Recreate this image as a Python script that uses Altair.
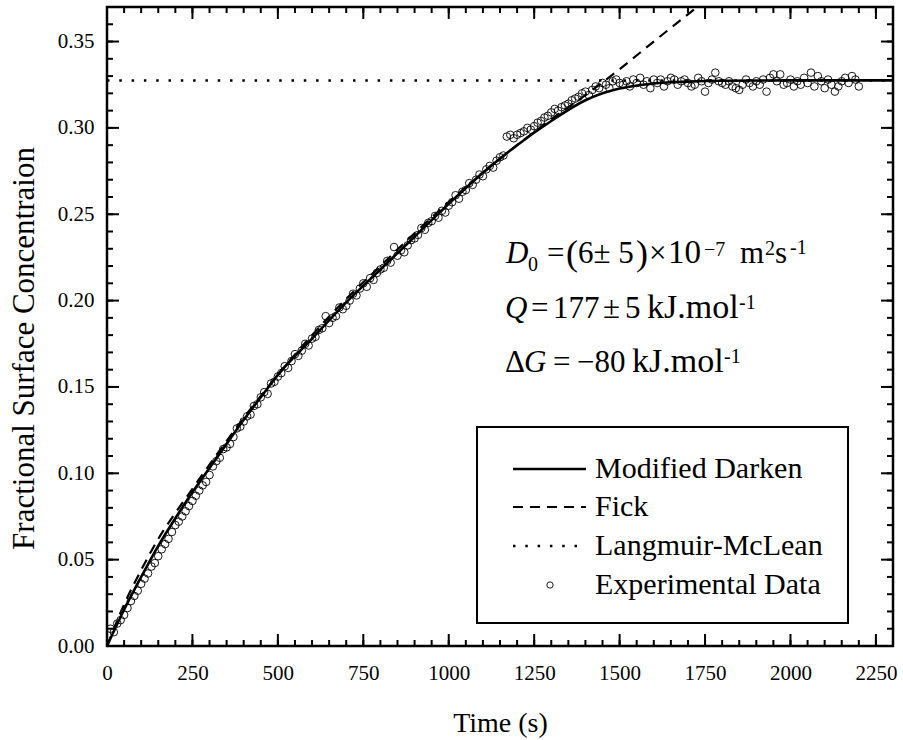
import altair as alt
import pandas as pd

# ---------------- data ----------------
exp_t = [
    10, 20, 30, 40, 50, 60, 70, 80, 90, 100,
    110, 120, 130, 140, 150, 160, 170, 180, 190, 200,
    210, 220, 230, 240, 250, 260, 270, 280, 290, 300,
    310, 320, 330, 340, 350, 360, 370, 380, 390, 400,
    410, 420, 430, 440, 450, 460, 470, 480, 490, 500,
    510, 520, 530, 540, 550, 560, 570, 580, 590, 600,
    610, 620, 630, 640, 650, 660, 670, 680, 690, 700,
    710, 720, 730, 740, 750, 760, 770, 780, 790, 800,
    810, 820, 830, 840, 850, 860, 870, 880, 890, 900,
    910, 920, 930, 940, 950, 960, 970, 980, 990, 1000,
    1010, 1020, 1030, 1040, 1050, 1060, 1070, 1080, 1090, 1100,
    1110, 1120, 1130, 1140, 1150, 1160, 1170, 1180, 1190, 1200,
    1210, 1220, 1230, 1240, 1250, 1260, 1270, 1280, 1290, 1300,
    1310, 1320, 1330, 1340, 1350, 1360, 1370, 1380, 1390, 1400,
    1410, 1420, 1430, 1440, 1450, 1460, 1470, 1480, 1490, 1500,
    1510, 1520, 1530, 1540, 1550, 1560, 1570, 1580, 1590, 1600,
    1610, 1620, 1630, 1640, 1650, 1660, 1670, 1680, 1690, 1700,
    1710, 1720, 1730, 1740, 1750, 1760, 1770, 1780, 1790, 1800,
    1810, 1820, 1830, 1840, 1850, 1860, 1870, 1880, 1890, 1900,
    1910, 1920, 1930, 1940, 1950, 1960, 1970, 1980, 1990, 2000,
    2010, 2020, 2030, 2040, 2050, 2060, 2070, 2080, 2090, 2100,
    2110, 2120, 2130, 2140, 2150, 2160, 2170, 2180, 2190, 2200,
]
exp_c = [
    0.010, 0.008, 0.013, 0.015, 0.018, 0.022, 0.026, 0.029, 0.032, 0.036,
    0.039, 0.042, 0.046, 0.048, 0.052, 0.056, 0.059, 0.062, 0.066, 0.070,
    0.072, 0.075, 0.078, 0.081, 0.084, 0.087, 0.090, 0.093, 0.095, 0.099,
    0.104, 0.107, 0.109, 0.114, 0.115, 0.117, 0.121, 0.126, 0.127, 0.130,
    0.133, 0.134, 0.139, 0.140, 0.144, 0.147, 0.146, 0.152, 0.153, 0.156,
    0.158, 0.162, 0.161, 0.165, 0.169, 0.168, 0.171, 0.175, 0.174, 0.178,
    0.179, 0.183, 0.184, 0.191, 0.187, 0.190, 0.191, 0.196, 0.195, 0.197,
    0.200, 0.204, 0.203, 0.207, 0.210, 0.208, 0.213, 0.212, 0.216, 0.218,
    0.219, 0.223, 0.222, 0.231, 0.226, 0.229, 0.228, 0.232, 0.235, 0.236,
    0.238, 0.242, 0.241, 0.245, 0.246, 0.249, 0.248, 0.252, 0.251, 0.255,
    0.257, 0.261, 0.259, 0.263, 0.264, 0.268, 0.267, 0.270, 0.273, 0.272,
    0.276, 0.278, 0.277, 0.281, 0.283, 0.284, 0.295, 0.296, 0.294, 0.296,
    0.297, 0.298, 0.300, 0.299, 0.301, 0.303, 0.304, 0.306, 0.307, 0.309,
    0.311, 0.310, 0.312, 0.313, 0.314, 0.316, 0.317, 0.318, 0.320, 0.321,
    0.319, 0.322, 0.324, 0.323, 0.326, 0.325, 0.323, 0.327, 0.328, 0.326,
    0.325, 0.327, 0.324, 0.328, 0.326, 0.329, 0.325, 0.327, 0.323, 0.328,
    0.326, 0.328, 0.324, 0.327, 0.329, 0.328, 0.325, 0.327, 0.328, 0.326,
    0.324, 0.325, 0.329, 0.327, 0.321, 0.326, 0.328, 0.332, 0.327, 0.326,
    0.325, 0.327, 0.324, 0.323, 0.322, 0.325, 0.328, 0.326, 0.324, 0.327,
    0.325, 0.328, 0.321, 0.329, 0.331, 0.327, 0.331, 0.325, 0.326, 0.328,
    0.324, 0.327, 0.325, 0.329, 0.326, 0.332, 0.324, 0.330, 0.327, 0.323,
    0.328, 0.325, 0.321, 0.324, 0.327, 0.329, 0.326, 0.330, 0.328, 0.324,
]

darken_t = [0, 50, 100, 150, 200, 250, 300, 350, 400, 450, 500, 600, 700, 800,
            900, 1000, 1100, 1200, 1300, 1400, 1450, 1500, 1550, 1600, 1700,
            1800, 2000, 2300]
darken_c = [0, 0.021, 0.040, 0.058, 0.074, 0.089, 0.103, 0.117, 0.131, 0.144,
            0.157, 0.178, 0.199, 0.218, 0.237, 0.256, 0.274, 0.290, 0.304,
            0.316, 0.320, 0.3228, 0.3245, 0.3257, 0.3268, 0.3273, 0.3275, 0.3275]

fick_t = [0, 50, 100, 150, 200, 250, 300, 400, 500, 600, 700, 800, 900, 1000,
          1100, 1200, 1300, 1400, 1500, 1600, 1727]
fick_c = [0, 0.024, 0.044, 0.062, 0.077, 0.091, 0.105, 0.132, 0.157, 0.180,
          0.201, 0.220, 0.239, 0.257, 0.274, 0.290, 0.305, 0.319, 0.334, 0.350,
          0.370]

lm_t = [0, 2300]
lm_c = [0.3275, 0.3275]

x_major = [0, 250, 500, 750, 1000, 1250, 1500, 1750, 2000, 2250]
x_minor = [0, 50, 100, 150, 200, 250, 300, 350, 400, 450, 500, 550, 600, 650,
           700, 750, 800, 850, 900, 950, 1000, 1050, 1100, 1150, 1200, 1250,
           1300, 1350, 1400, 1450, 1500, 1550, 1600, 1650, 1700, 1750, 1800,
           1850, 1900, 1950, 2000, 2050, 2100, 2150, 2200, 2250, 2300]
y_major = [0.0, 0.05, 0.10, 0.15, 0.20, 0.25, 0.30, 0.35]
y_minor = [0.0, 0.01, 0.02, 0.03, 0.04, 0.05, 0.06, 0.07, 0.08, 0.09, 0.10,
           0.11, 0.12, 0.13, 0.14, 0.15, 0.16, 0.17, 0.18, 0.19, 0.20, 0.21,
           0.22, 0.23, 0.24, 0.25, 0.26, 0.27, 0.28, 0.29, 0.30, 0.31, 0.32,
           0.33, 0.34, 0.35, 0.36, 0.37]

legend_labels = ["Modified Darken", "Fick", "Langmuir-McLean", "Experimental Data"]

# ---------------- layout / style ----------------
W, H = 786, 639
LEFT, TOP = 107, 7
FONT = "Liberation Serif"

xs = alt.Scale(domain=[0, 2300], nice=False, zero=False)
ys = alt.Scale(domain=[0, 0.37], nice=False, zero=False)

x_axis = alt.Axis(values=x_major, format="d", title="Time (s)", ticks=False,
                  domain=False, grid=False, labelFont=FONT, labelFontSize=21,
                  labelColor="black", labelPadding=16, labelFlush=False,
                  labelOverlap=False, titleFont=FONT, titleFontSize=28,
                  titleFontWeight="normal", titleColor="black", titleY=85,
                  titleBaseline="alphabetic")
y_axis = alt.Axis(values=y_major, format=".2f",
                  title="Fractional Surface Concentraion", ticks=False,
                  domain=False, grid=False, labelFont=FONT, labelFontSize=21,
                  labelColor="black", labelPadding=13, labelFlush=False,
                  labelOverlap=False, titleFont=FONT, titleFontSize=31,
                  titleFontWeight="normal", titleColor="black", titleX=-74,
                  titleY=341, titleAngle=270, titleBaseline="alphabetic",
                  titleAlign="center")


def X():
    return alt.X("t:Q", scale=xs, axis=x_axis)


def Y():
    return alt.Y("c:Q", scale=ys, axis=y_axis)


exp_df = pd.DataFrame({"t": exp_t, "c": exp_c})
dk_df = pd.DataFrame({"t": darken_t, "c": darken_c})
fk_df = pd.DataFrame({"t": fick_t, "c": fick_c})
lm_df = pd.DataFrame({"t": lm_t, "c": lm_c})
one = pd.DataFrame({"a": [0]})

points = alt.Chart(exp_df).mark_point(
    shape="circle", filled=False, size=58, color="black", strokeWidth=0.9,
    opacity=1
).encode(x=X(), y=Y())

lm_line = alt.Chart(lm_df).mark_line(
    color="black", strokeWidth=2.5, strokeDash=[2.5, 9.8], strokeCap="butt"
).encode(x=X(), y=Y())

fick_line = alt.Chart(fk_df).mark_line(
    color="black", strokeWidth=2.2, strokeDash=[10, 7], interpolate="monotone"
).encode(x=X(), y=Y())

dk_line = alt.Chart(dk_df).mark_line(
    color="black", strokeWidth=2.6, interpolate="monotone"
).encode(x=X(), y=Y())


def xticks(vals, y0, y1):
    return alt.Chart(pd.DataFrame({"t": vals})).mark_rule(
        color="black", strokeWidth=2
    ).encode(x=X(), y=alt.value(y0), y2=alt.value(y1))


def yticks(vals, x0, x1):
    return alt.Chart(pd.DataFrame({"c": vals})).mark_rule(
        color="black", strokeWidth=2
    ).encode(y=Y(), x=alt.value(x0), x2=alt.value(x1))


ticks = [
    xticks(x_major, H, H - 12), xticks(x_minor, H, H - 6),
    xticks(x_major, 0, 12), xticks(x_minor, 0, 6),
    yticks(y_major, 0, 12), yticks(y_minor, 0, 6),
    yticks(y_major, W, W - 12), yticks(y_minor, W, W - 6),
]

# ---------------- legend (drawn in the plot) ----------------
leg_box = alt.Chart(one).mark_rect(fill="white", stroke="black", strokeWidth=2).encode(
    x=alt.value(477 - LEFT), x2=alt.value(848 - LEFT),
    y=alt.value(427 - TOP), y2=alt.value(623 - TOP))

row_y = [469 - TOP, 507 - TOP, 546 - TOP, 585 - TOP]
sym_x0, sym_x1 = 513 - LEFT, 586 - LEFT


def leg_line(y, **kw):
    return alt.Chart(one).mark_rule(color="black", **kw).encode(
        x=alt.value(sym_x0), x2=alt.value(sym_x1), y=alt.value(y))


leg_items = [
    leg_line(row_y[0], strokeWidth=2.6),
    leg_line(row_y[1], strokeWidth=2.2, strokeDash=[10, 7]),
    leg_line(row_y[2], strokeWidth=2.5, strokeDash=[2.5, 9.8], strokeCap="butt"),
    alt.Chart(one).mark_point(shape="circle", filled=False, size=40, color="black",
                              strokeWidth=0.9, opacity=1).encode(
        x=alt.value(550 - LEFT), y=alt.value(row_y[3])),
]
for lbl, yy in zip(legend_labels, row_y):
    leg_items.append(alt.Chart(one).mark_text(
        align="left", baseline="middle", font=FONT, fontSize=30, color="black"
    ).encode(x=alt.value(595 - LEFT), y=alt.value(yy), text=alt.value(lbl)))


# ---------------- parameter annotation ----------------
def frag(s, px, py, size=31, italic=False):
    kw = dict(align="left", baseline="alphabetic", font=FONT, fontSize=size,
              color="black")
    if italic:
        kw["fontStyle"] = "italic"
    return alt.Chart(one).mark_text(**kw).encode(
        x=alt.value(px - LEFT), y=alt.value(py - TOP), text=alt.value(s))


notes = [
    frag("D", 506, 263, italic=True),
    frag("0", 528, 271, size=20),
    frag("=", 547, 263),
    frag("(", 566, 265, size=36),
    frag("6\u00b1 5", 578, 263),
    frag(")", 636, 265, size=36),
    frag("\u00d7", 649, 263),
    frag("10", 668, 263, size=33),
    frag("\u22127", 704, 256, size=20),
    frag("m", 740, 263),
    frag("2", 765, 255, size=20),
    frag("s", 775, 263),
    frag("-1", 790, 254, size=20),
    frag("Q", 505, 318, italic=True),
    frag("=", 531, 318),
    frag("177", 553, 318),
    frag("\u00b1", 603, 318),
    frag("5", 625, 318),
    frag("kJ.mol", 647, 318, size=34),
    frag("-1", 739, 309, size=20),
    frag("\u0394", 505, 372),
    frag("G", 524, 372, italic=True),
    frag("=", 553, 372),
    frag("\u221280", 577, 372),
    frag("kJ.mol", 632, 372, size=34),
    frag("-1", 724, 363, size=20),
]

chart = alt.layer(
    points, lm_line, fick_line, dk_line, *ticks, leg_box, *leg_items, *notes
).properties(
    width=W, height=H,
    padding={"left": LEFT, "top": TOP, "right": 903 - LEFT - W, "bottom": 740 - TOP - H},
    autosize="none", background="white",
).configure_view(stroke="black", strokeWidth=2.5)

chart.save("out.html", embed_options={"renderer": "svg", "actions": False})
